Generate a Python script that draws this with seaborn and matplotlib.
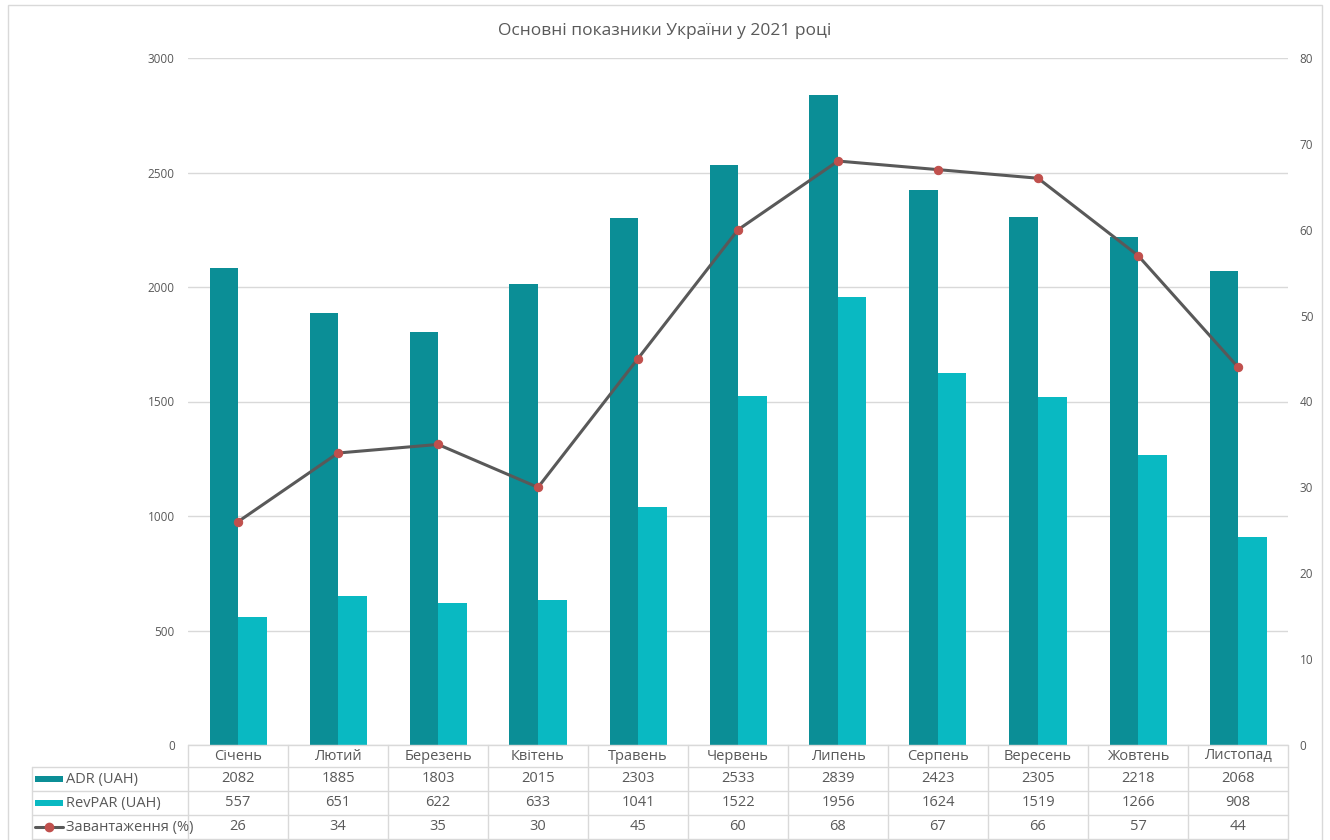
import numpy as np
import pandas as pd
import matplotlib
matplotlib.use("Agg")
import matplotlib.pyplot as plt
import matplotlib.transforms as mtransforms
from matplotlib.patches import Rectangle
from matplotlib.lines import Line2D
import seaborn as sns

months = ["Січень", "Лютий", "Березень", "Квітень", "Травень", "Червень",
          "Липень", "Серпень", "Вересень", "Жовтень", "Листопад"]
adr = [2082, 1885, 1803, 2015, 2303, 2533, 2839, 2423, 2305, 2218, 2068]
revpar = [557, 651, 622, 633, 1041, 1522, 1956, 1624, 1519, 1266, 908]
occupancy = [26, 34, 35, 30, 45, 60, 68, 67, 66, 57, 44]

series_names = ["ADR (UAH)", "RevPAR (UAH)", "Завантаження (%)"]
left_ticks = [0, 500, 1000, 1500, 2000, 2500, 3000]
right_ticks = [0, 10, 20, 30, 40, 50, 60, 70, 80]
title = "Основні показники України у 2021 році"

c_adr = "#0b8e96"
c_rev = "#09b9c2"
c_line = "#595959"
c_mark = "#c0504d"
c_grid = "#d9d9d9"
c_text = "#595959"

sns.set_theme(style="white")
plt.rcParams["font.family"] = ["Open Sans", "DejaVu Sans"]

bars = pd.DataFrame({
    "month": months * 2,
    "value": adr + revpar,
    "series": [series_names[0]] * len(months) + [series_names[1]] * len(months),
})
line_df = pd.DataFrame({"pos": np.arange(len(months)), "occ": occupancy})

W, H = 1330, 840
fig = plt.figure(figsize=(W / 100, H / 100), dpi=100)
fig.patch.set_facecolor("white")
ax = fig.add_axes([188 / W, 1 - 745 / H, 1100 / W, 687 / H])

sns.barplot(data=bars, x="month", y="value", hue="series", order=months,
            palette=[c_adr, c_rev], width=0.57, saturation=1, ax=ax,
            legend=False, linewidth=0)
ax.set_xlim(-0.5, len(months) - 0.5)
ax.set_ylim(0, 3000)
ax.set_yticks(left_ticks)
ax.set_xticks([])
ax.set_xlabel("")
ax.set_ylabel("")
ax.yaxis.grid(True, color=c_grid, linewidth=1)
ax.set_axisbelow(True)
for s in ax.spines.values():
    s.set_visible(False)
ax.tick_params(axis="y", length=0, pad=9.5, labelsize=8.5, labelcolor=c_text)

ax2 = ax.twinx()
sns.lineplot(data=line_df, x="pos", y="occ", ax=ax2, color=c_line,
             linewidth=2.2, marker="o", markersize=6, markerfacecolor=c_mark,
             markeredgecolor=c_mark)
ax2.set_ylim(0, 80)
ax2.set_yticks(right_ticks)
ax2.set_xlim(-0.5, len(months) - 0.5)
ax2.set_xlabel("")
ax2.set_ylabel("")
ax2.grid(False)
for s in ax2.spines.values():
    s.set_visible(False)
ax2.tick_params(axis="y", length=0, pad=8.5, labelsize=8.5, labelcolor=c_text)

fig.text(0.5, 1 - 31 / H, title, ha="center", va="center",
         fontsize=12.5, color=c_text)

# outer chart border
fig.patches.append(Rectangle((8 / W, -0.05), (1322 - 8) / W, 1.05 - 5 / H,
                             transform=fig.transFigure, fill=False,
                             edgecolor=c_grid, linewidth=1))

# data table under the axes
trans = mtransforms.blended_transform_factory(ax.transData, ax.transAxes)
ah = 687.0
rows_px = [745, 767, 791, 815, 839]
row_y = [-(p - 745) / ah for p in rows_px]
lab_left = (32 - 188) / 1100.0
n = len(months)
edges = np.arange(n + 1) - 0.5
lkw = dict(color=c_grid, linewidth=1, clip_on=False)

ax.add_line(Line2D([edges[0], edges[-1]], [row_y[0]] * 2, transform=trans, **lkw))
for y in row_y[1:]:
    ax.add_line(Line2D([lab_left, 1], [y, y], transform=ax.transAxes, **lkw))
for e in edges:
    ax.add_line(Line2D([e, e], [row_y[0], row_y[-1]], transform=trans, **lkw))
ax.add_line(Line2D([lab_left, lab_left], [row_y[1], row_y[-1]],
                   transform=ax.transAxes, **lkw))

fs = 10.5
for i, m in enumerate(months):
    ax.text(i, (row_y[0] + row_y[1]) / 2, m, transform=trans, ha="center",
            va="center", fontsize=fs, color=c_text, clip_on=False)
table_vals = [adr, revpar, occupancy]
for r, vals in enumerate(table_vals):
    yc = (row_y[r + 1] + row_y[r + 2]) / 2
    for i, v in enumerate(vals):
        ax.text(i, yc, str(v), transform=trans, ha="center", va="center",
                fontsize=fs, color=c_text, clip_on=False)
    ax.text((66 - 188) / 1100.0, yc, series_names[r], transform=ax.transAxes,
            ha="left", va="center", fontsize=fs, color=c_text, clip_on=False)

sw_x0 = (35 - 188) / 1100.0
sw_x1 = (63 - 188) / 1100.0
for r, col in enumerate([c_adr, c_rev]):
    yc = (row_y[r + 1] + row_y[r + 2]) / 2
    hh = 6 / ah
    ax.add_patch(Rectangle((sw_x0, yc - hh / 2), sw_x1 - sw_x0, hh,
                           transform=ax.transAxes, facecolor=col,
                           edgecolor="none", clip_on=False))
yc = (row_y[3] + row_y[4]) / 2
ax.add_line(Line2D([sw_x0, sw_x1], [yc, yc], transform=ax.transAxes,
                   color=c_line, linewidth=2.2, clip_on=False))
ax.add_line(Line2D([(sw_x0 + sw_x1) / 2], [yc], transform=ax.transAxes,
                   marker="o", markersize=6, color=c_mark, linestyle="none",
                   clip_on=False))

fig.savefig("out.png", dpi=100, facecolor="white")
